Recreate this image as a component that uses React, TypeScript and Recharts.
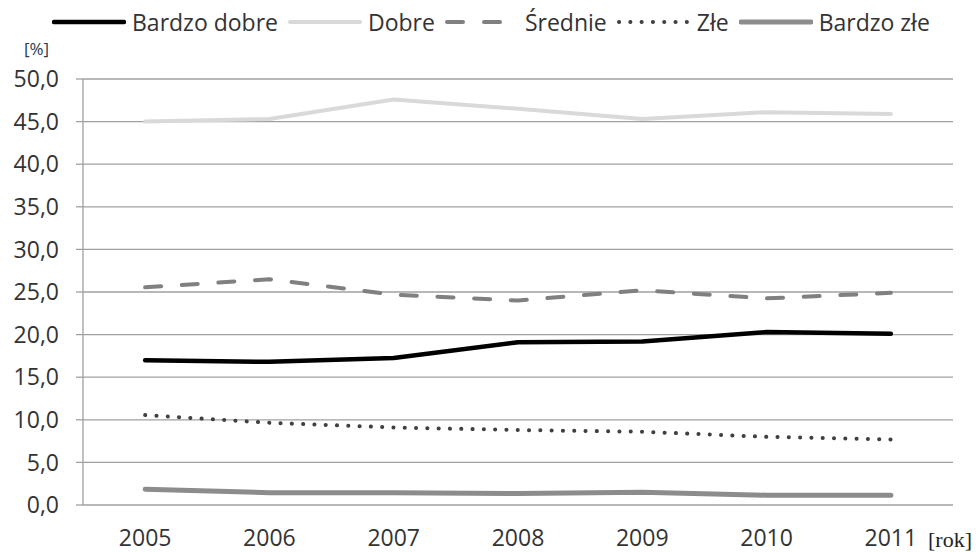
import { CartesianGrid, Legend, Line, LineChart, XAxis, YAxis } from "recharts"

const years = [2005, 2006, 2007, 2008, 2009, 2010, 2011]
const bardzoDobre = [17.0, 16.8, 17.25, 19.1, 19.2, 20.3, 20.1]
const dobre = [45.0, 45.3, 47.6, 46.5, 45.3, 46.1, 45.9]
const srednie = [25.55, 26.5, 24.7, 24.0, 25.2, 24.25, 24.9]
const zle = [10.55, 9.65, 9.1, 8.8, 8.6, 8.0, 7.7]
const bardzoZle = [1.85, 1.45, 1.45, 1.35, 1.5, 1.15, 1.15]
const yTicks = [0, 5, 10, 15, 20, 25, 30, 35, 40, 45, 50]

// tick marks sit between the years
const boundaryTicks = [...years.map((y) => y - 0.5), years[years.length - 1] + 0.5]

const chartData = years.map((year, i) => ({
  year,
  bardzoDobre: bardzoDobre[i],
  dobre: dobre[i],
  srednie: srednie[i],
  zle: zle[i],
  bardzoZle: bardzoZle[i],
}))

const series = [
  { key: "bardzoDobre", name: "Bardzo dobre", color: "#000000", width: 4.5, dash: undefined, legendDash: undefined },
  { key: "dobre", name: "Dobre", color: "#d9d9d9", width: 4, dash: undefined, legendDash: undefined },
  { key: "srednie", name: "Średnie", color: "#808080", width: 4, dash: "16 20.7", legendDash: "16 21" },
  { key: "zle", name: "Złe", color: "#404040", width: 4, dash: "0.1 11.2", legendDash: "0.1 11.2" },
  { key: "bardzoZle", name: "Bardzo złe", color: "#8c8c8c", width: 5, dash: undefined, legendDash: undefined },
]

const font = "'Open Sans', sans-serif"
const gridColor = "#a0a0a0"

const renderLegend = () => (
  <div style={{ display: "flex", alignItems: "center", height: 44, fontFamily: font, fontSize: 23, color: "#333" }}>
    {series.map((s) => (
      <div key={s.key} style={{ display: "flex", alignItems: "center", marginRight: 10 }}>
        <svg width={74} height={10} style={{ marginRight: 6 }}>
          <line
            x1={2}
            y1={5}
            x2={72}
            y2={5}
            stroke={s.color}
            strokeWidth={s.width}
            strokeDasharray={s.legendDash}
            strokeLinecap="round"
          />
        </svg>
        <span>{s.name}</span>
      </div>
    ))}
  </div>
)

export default function App() {
  return (
    <div style={{ position: "absolute", left: 0, top: 0, background: "#fff" }}>
      <LineChart width={976} height={552} data={chartData} margin={{ top: 79, right: 23, left: 0, bottom: 0 }}>
        <CartesianGrid xAxisId="yr" vertical={false} stroke={gridColor} strokeWidth={1.3} />
        <XAxis
          xAxisId="grid"
          dataKey="year"
          type="number"
          domain={[2004.5, 2011.5]}
          ticks={boundaryTicks}
          tick={false}
          tickSize={10}
          height={0}
          stroke={gridColor}
          strokeWidth={1.3}
        />
        <XAxis
          xAxisId="yr"
          dataKey="year"
          type="number"
          domain={[2004.5, 2011.5]}
          ticks={years}
          tickLine={false}
          axisLine={false}
          tickSize={0}
          tickMargin={25}
          height={47}
          tick={{ fill: "#333", fontSize: 23, fontFamily: font }}
          label={({ viewBox }: any) => (
            <text
              x={viewBox.x + viewBox.width - 25}
              y={viewBox.y + 42}
              fill="#222"
              fontSize={22}
              fontFamily="'Liberation Serif', serif"
            >
              [rok]
            </text>
          )}
        />
        <YAxis
          domain={[0, 50]}
          ticks={yTicks}
          width={83}
          tickSize={7}
          tickMargin={17}
          stroke={gridColor}
          strokeWidth={1.3}
          tickFormatter={(v: number) => v.toFixed(1).replace(".", ",")}
          tick={{ fill: "#333", fontSize: 23, fontFamily: font }}
          label={({ viewBox }: any) => (
            <text x={viewBox.x + 24} y={viewBox.y - 24} fill="#2b3a4c" fontSize={17} fontFamily={font}>
              [%]
            </text>
          )}
        />
        <Legend
          layout="horizontal"
          verticalAlign="middle"
          align="center"
          wrapperStyle={{ top: 0, left: 52, width: "auto" }}
          content={renderLegend}
        />
        {series.map((s) => (
          <Line
            key={s.key}
            xAxisId="yr"
            type="linear"
            dataKey={s.key}
            name={s.name}
            stroke={s.color}
            strokeWidth={s.width}
            strokeDasharray={s.dash}
            strokeLinecap="round"
            strokeLinejoin="round"
            dot={false}
            activeDot={false}
            isAnimationActive={false}
          />
        ))}
      </LineChart>
    </div>
  )
}
